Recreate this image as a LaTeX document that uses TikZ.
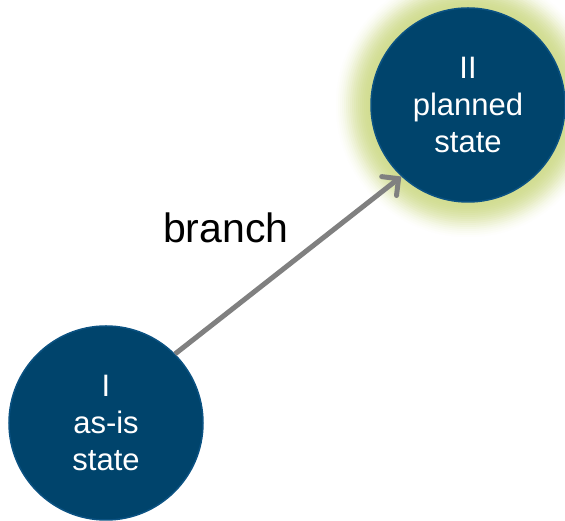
\documentclass[tikz,border=0pt]{standalone}
\usepackage{fontspec}
\setmainfont{Liberation Sans}
\usetikzlibrary{arrows.meta}
\definecolor{circfill}{HTML}{00446C}
\definecolor{circline}{HTML}{0B5282}
\definecolor{glowc}{HTML}{D2DD93}
\definecolor{arrowc}{HTML}{808080}
\begin{document}
\begin{tikzpicture}[x=1pt,y=1pt,
  statenode/.style={circle, fill=circfill, draw=circline, line width=1.5pt,
    minimum size=194pt, inner sep=0pt, text=white, align=center,
    font=\fontsize{31}{37}\selectfont},
  branchline/.style={draw=arrowc, line width=5pt,
    -{Straight Barb[length=12pt, width=24pt, line cap=round]}},
  lbl/.style={font=\fontsize{41}{48}\selectfont, inner sep=0pt, text=black}]
\useasboundingbox (0,0) rectangle (565,521);
\fill[white] (0,0) rectangle (565,521);
% glow around planned state
\foreach \r/\p in {132/3,130/7,128/12,126/18,124/25,122/33,120/41,118/50,116/58,114/66,112/73,110/80,108/86,106/91,104/95,102/98,100/100}
  \fill[glowc!\p!white] (468,416) circle (\r);
\node[statenode] (I) at (106,98) {I\\as-is\\state};
\node[statenode] (II) at (468,416) {II\\planned\\state};
\draw[branchline] (I.45) -- (II.227);
\node[lbl, anchor=base west] (br) at (163,278) {branch};
\end{tikzpicture}
\end{document}
